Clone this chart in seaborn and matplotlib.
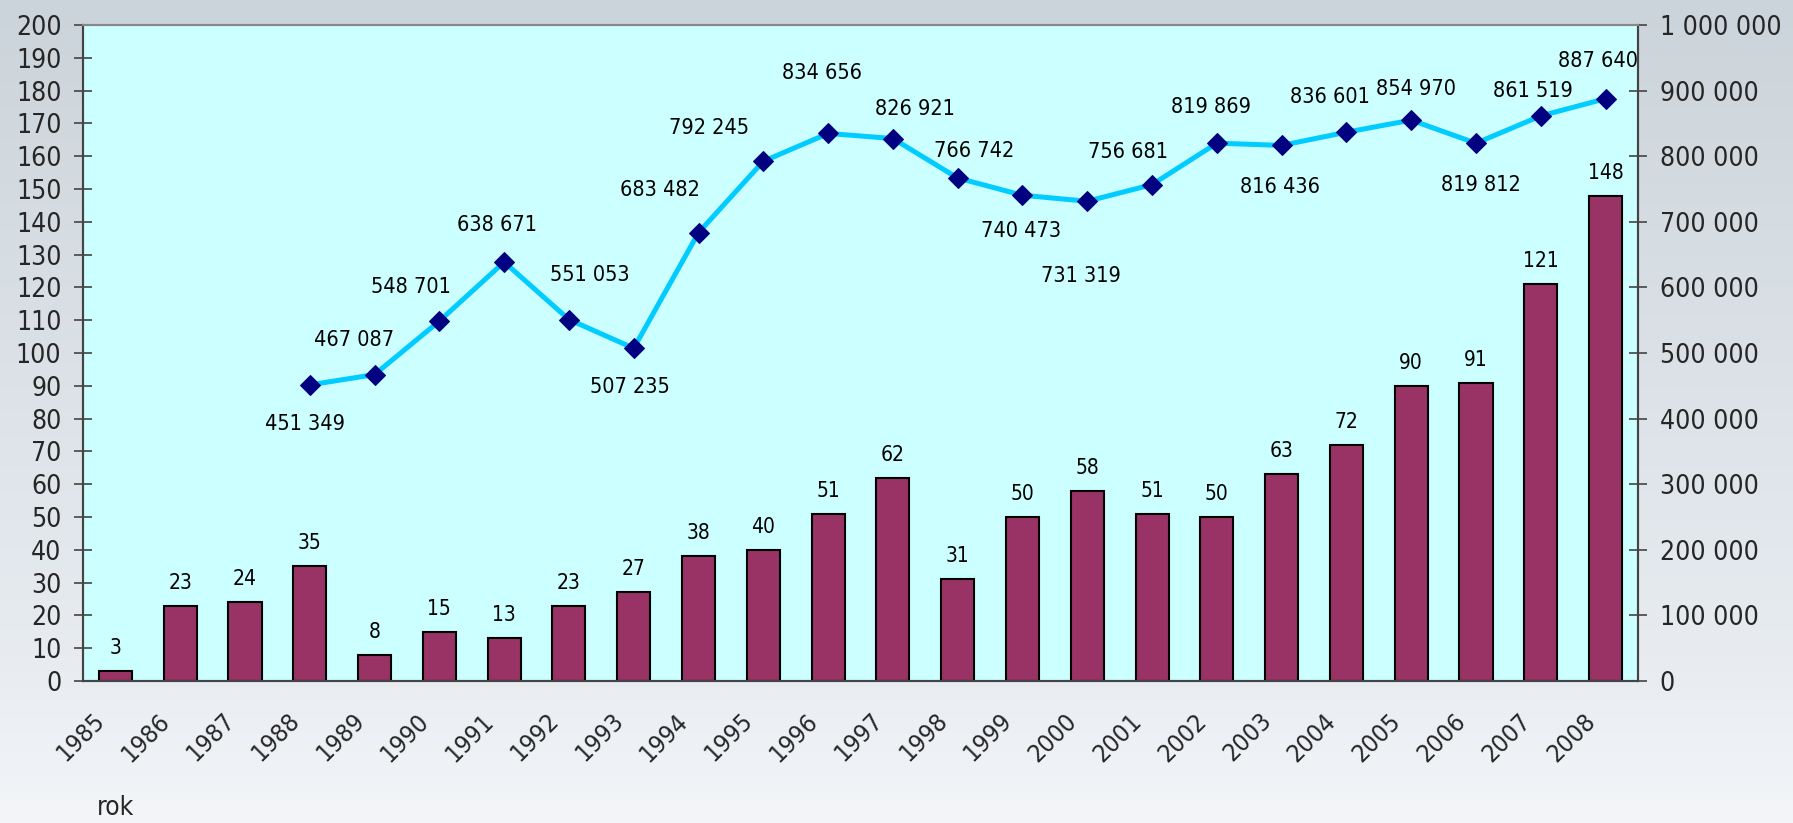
import numpy as np
import pandas as pd
import matplotlib
matplotlib.use("Agg")
import matplotlib.pyplot as plt
from matplotlib.transforms import ScaledTranslation
from matplotlib.ticker import FuncFormatter, MultipleLocator
import seaborn as sns

# ---------------- data ----------------
years = [str(y) for y in range(1985, 2009)]
bar_values = [3, 23, 24, 35, 8, 15, 13, 23, 27, 38, 40, 51, 62, 31, 50, 58, 51, 50, 63, 72, 90, 91, 121, 148]
line_years = [str(y) for y in range(1988, 2009)]
line_values = [451349, 467087, 548701, 638671, 551053, 507235, 683482, 792245, 834656, 826921,
               766742, 740473, 731319, 756681, 819869, 816436, 836601, 854970, 819812, 861519, 887640]
x_axis_title = "rok"

# ---------------- style (label offsets in pixels) ----------------
label_dx = [-5, -20, -28, -7, 21, -4, -39, -54, -6, 22, 16, -1, -6, -24, -6, -2, -16, 5, 5, -8, -8]
label_dy = [-39, 35, 34, 37, 45, -39, 43, 33, 60, 30, 27, -36, -75, 33, 36, -42, 35, 31, -42, 25, 38]

sns.set_style("white")
plt.rcParams['font.family'] = ['DejaVu Sans']
plt.rcParams['font.stretch'] = 'condensed'

W, H = 1793, 823
fig = plt.figure(figsize=(W / 100, H / 100), dpi=100)

# gradient background
bg = fig.add_axes([0, 0, 1, 1], zorder=-10)
grad = np.linspace(0, 1, 256)[:, None]
top = np.array([203, 212, 218]) / 255
mid = np.array([232, 236, 241]) / 255
bot = np.array([243, 245, 248]) / 255
cols = np.where(grad < 0.8, top + (mid - top) * (grad / 0.8), mid + (bot - mid) * ((grad - 0.8) / 0.2))
img = np.repeat(cols[:, None, :], 2, axis=1).reshape(256, 2, 3)
bg.imshow(img, aspect='auto', extent=[0, 1, 0, 1], origin='upper')
bg.axis('off')

left, right, topy, boty = 83 / W, 1638 / W, 1 - 25 / H, 1 - 681 / H
ax = fig.add_axes([left, boty, right - left, topy - boty], zorder=1)
ax.set_facecolor('#CCFFFF')

df_bar = pd.DataFrame({"year": years, "value": bar_values})
sns.barplot(data=df_bar, x="year", y="value", ax=ax, color="#993366",
            saturation=1, width=0.51, edgecolor="black", linewidth=1.5, zorder=2)

ax.set_xlim(-0.5, len(years) - 0.5)
ax.set_ylim(0, 200)
ax.yaxis.set_major_locator(MultipleLocator(10))
ax.set_xlabel("")
ax.set_ylabel("")

for i, v in enumerate(bar_values):
    ax.annotate(str(v), (i, v), xytext=(0, 23), textcoords="offset pixels",
                ha="center", va="center", fontsize=15, color="black", zorder=5)

# twin axis for line
ax2 = ax.twinx()
pos_map = {y: i for i, y in enumerate(years)}
df_line = pd.DataFrame({"x": [pos_map[y] for y in line_years], "value": line_values})
sns.lineplot(data=df_line, x="x", y="value", ax=ax2, color="#00CCFF", linewidth=3.6,
             marker="D", markersize=10, markerfacecolor="#000080", markeredgecolor="#000080",
             zorder=3)
ax2.set_ylim(0, 1000000)
ax2.set_xlim(-0.5, len(years) - 0.5)
ax2.yaxis.set_major_locator(MultipleLocator(100000))
ax2.yaxis.set_major_formatter(FuncFormatter(lambda v, p: f"{int(round(v)):,}".replace(",", " ")))
ax2.set_xlabel("")
ax2.set_ylabel("")

for x, v, dy, dx in zip(df_line["x"], line_values, label_dy, label_dx):
    ax2.annotate(f"{v:,}".replace(",", " "), (x, v), xytext=(dx, dy), textcoords="offset pixels",
                 ha="center", va="center", fontsize=15.5, color="black", zorder=6)

# ticks
ax.set_xticks(range(len(years)))
ax.set_xticklabels(years)
ax.set_xticks(np.arange(-0.5, len(years) + 0.5, 1), minor=True)
ax.tick_params(axis="x", which="major", length=0, pad=26, labelsize=18)
ax.tick_params(axis="x", which="minor", length=12.5, direction="inout", width=1.2, color="#444444")
for lab in ax.get_xticklabels():
    lab.set_rotation(45)
    lab.set_rotation_mode("anchor")
    lab.set_ha("right")
    lab.set_va("center")
    lab.set_transform(lab.get_transform() + ScaledTranslation(-14 / 100, 0, fig.dpi_scale_trans))

ax.tick_params(axis="y", which="major", left=True, length=13, direction="inout", width=1.2,
               color="#444444", pad=9, labelsize=19)
ax2.tick_params(axis="y", which="major", right=True, length=13, direction="inout", width=1.2,
                color="#444444", pad=9, labelsize=19)

for a in (ax, ax2):
    for s in ("left", "right", "bottom"):
        a.spines[s].set_color("#444444")
        a.spines[s].set_linewidth(1.5)
    a.spines["top"].set_color("#888888")
    a.spines["top"].set_linewidth(1.5)

fig.text(116 / W, 1 - 808 / H, x_axis_title, ha="center", va="center", fontsize=19)

fig.savefig("out.png", dpi=100)
